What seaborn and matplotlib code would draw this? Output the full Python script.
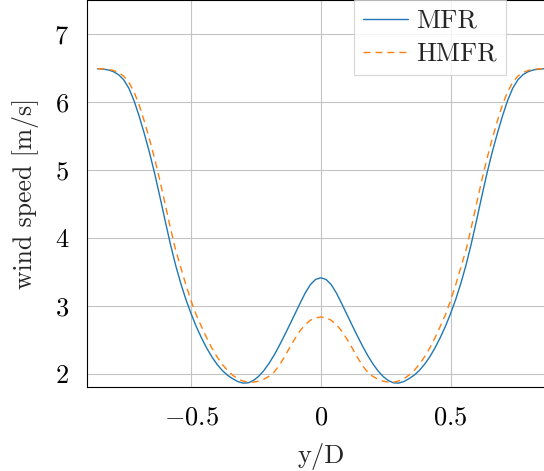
import numpy as np
import pandas as pd
import matplotlib
matplotlib.use("Agg")
import matplotlib.pyplot as plt
import seaborn as sns

# lateral position y/D
y_over_d = [-0.86, -0.84, -0.82, -0.80, -0.78, -0.76, -0.74, -0.72, -0.70, -0.68,
            -0.66, -0.64, -0.62, -0.60, -0.58, -0.56, -0.54, -0.52, -0.50, -0.48,
            -0.46, -0.44, -0.42, -0.40, -0.38, -0.36, -0.34, -0.32, -0.30, -0.28,
            -0.26, -0.24, -0.22, -0.20, -0.18, -0.16, -0.14, -0.12, -0.10, -0.08,
            -0.06, -0.04, -0.02, 0.00, 0.02, 0.04, 0.06, 0.08, 0.10, 0.12,
            0.14, 0.16, 0.18, 0.20, 0.22, 0.24, 0.26, 0.28, 0.30, 0.32,
            0.34, 0.36, 0.38, 0.40, 0.42, 0.44, 0.46, 0.48, 0.50, 0.52,
            0.54, 0.56, 0.58, 0.60, 0.62, 0.64, 0.66, 0.68, 0.70, 0.72,
            0.74, 0.76, 0.78, 0.80, 0.82, 0.84, 0.86]

# wind speed [m/s]
mfr = [6.495, 6.489, 6.477, 6.453, 6.409, 6.333, 6.209, 6.025, 5.795, 5.535,
       5.255, 4.945, 4.605, 4.255, 3.915, 3.605, 3.335, 3.095, 2.885, 2.695,
       2.529, 2.379, 2.249, 2.139, 2.049, 1.979, 1.927, 1.885, 1.862, 1.866,
       1.900, 1.960, 2.044, 2.150, 2.274, 2.414, 2.564, 2.720, 2.878, 3.038,
       3.190, 3.314, 3.390, 3.414, 3.390, 3.314, 3.190, 3.038, 2.878, 2.720,
       2.564, 2.414, 2.274, 2.150, 2.044, 1.960, 1.900, 1.866, 1.862, 1.885,
       1.927, 1.979, 2.049, 2.139, 2.249, 2.379, 2.529, 2.695, 2.885, 3.095,
       3.335, 3.605, 3.915, 4.255, 4.605, 4.945, 5.255, 5.535, 5.795, 6.025,
       6.209, 6.333, 6.409, 6.453, 6.477, 6.489, 6.495]

hmfr = [6.495, 6.492, 6.486, 6.470, 6.440, 6.386, 6.296, 6.154, 5.960, 5.717,
        5.451, 5.162, 4.843, 4.500, 4.153, 3.830, 3.570, 3.310, 3.074, 2.866,
        2.695, 2.529, 2.379, 2.249, 2.139, 2.049, 1.979, 1.925, 1.893, 1.875,
        1.876, 1.890, 1.918, 1.962, 2.024, 2.124, 2.248, 2.384, 2.516, 2.632,
        2.724, 2.788, 2.824, 2.836, 2.824, 2.788, 2.724, 2.632, 2.516, 2.384,
        2.248, 2.124, 2.024, 1.962, 1.918, 1.890, 1.876, 1.875, 1.893, 1.925,
        1.979, 2.049, 2.139, 2.249, 2.379, 2.529, 2.695, 2.866, 3.074, 3.310,
        3.570, 3.830, 4.153, 4.500, 4.843, 5.162, 5.451, 5.717, 5.960, 6.154,
        6.296, 6.386, 6.440, 6.470, 6.486, 6.492, 6.495]

xticks = [-0.5, 0, 0.5]
xtick_labels = ["$-0.5$", "$0$", "$0.5$"]
yticks = [2, 3, 4, 5, 6, 7]
ytick_labels = ["$2$", "$3$", "$4$", "$5$", "$6$", "$7$"]

sns.set_style("white")
plt.rcParams["font.family"] = ["cmr10", "DejaVu Serif"]
plt.rcParams["mathtext.fontset"] = "cm"
plt.rcParams["axes.unicode_minus"] = True

df = pd.DataFrame({"y/D": y_over_d, "MFR": mfr, "HMFR": hmfr})

fig = plt.figure(figsize=(5.44, 4.71), dpi=100)
ax = fig.add_axes([87.3 / 544, 83.7 / 471, 467 / 544, 386.8 / 471])

grid_c = "#c4c4c4"
sns.lineplot(data=df, x="y/D", y="MFR", ax=ax, color="#1f77b4", lw=1.0, label="MFR")
sns.lineplot(data=df, x="y/D", y="HMFR", ax=ax, color="#ff7f0e", lw=1.0,
             dashes=False, linestyle=(0, (5, 3.6)), label="HMFR")

ax.set_xlim(-0.9, 0.9)
ax.set_ylim(1.8, 7.5)
ax.set_xticks(xticks)
ax.set_xticklabels(xtick_labels)
ax.set_yticks(yticks)
ax.set_yticklabels(ytick_labels)
ax.grid(True, color=grid_c, lw=0.8)
ax.tick_params(axis="both", direction="out", length=8, width=0.8, color=grid_c,
               labelsize=19, pad=5, labelcolor="black")
for s in ax.spines.values():
    s.set_color("black")
    s.set_linewidth(0.8)

ax.set_xlabel("y/D", fontsize=19, labelpad=10)
ax.set_ylabel("wind speed [m/s]", fontsize=18.5, labelpad=11)

leg = ax.legend(loc="upper right", bbox_to_anchor=(506 / 544, 1.0),
                bbox_transform=fig.transFigure, borderaxespad=0, fontsize=19,
                fancybox=False, frameon=True, handlelength=1.7, handletextpad=0.3,
                borderpad=0.35, labelspacing=0.35)
leg.get_frame().set_edgecolor("#cccccc")
leg.get_frame().set_linewidth(0.8)

fig.savefig("out.png", dpi=100)
